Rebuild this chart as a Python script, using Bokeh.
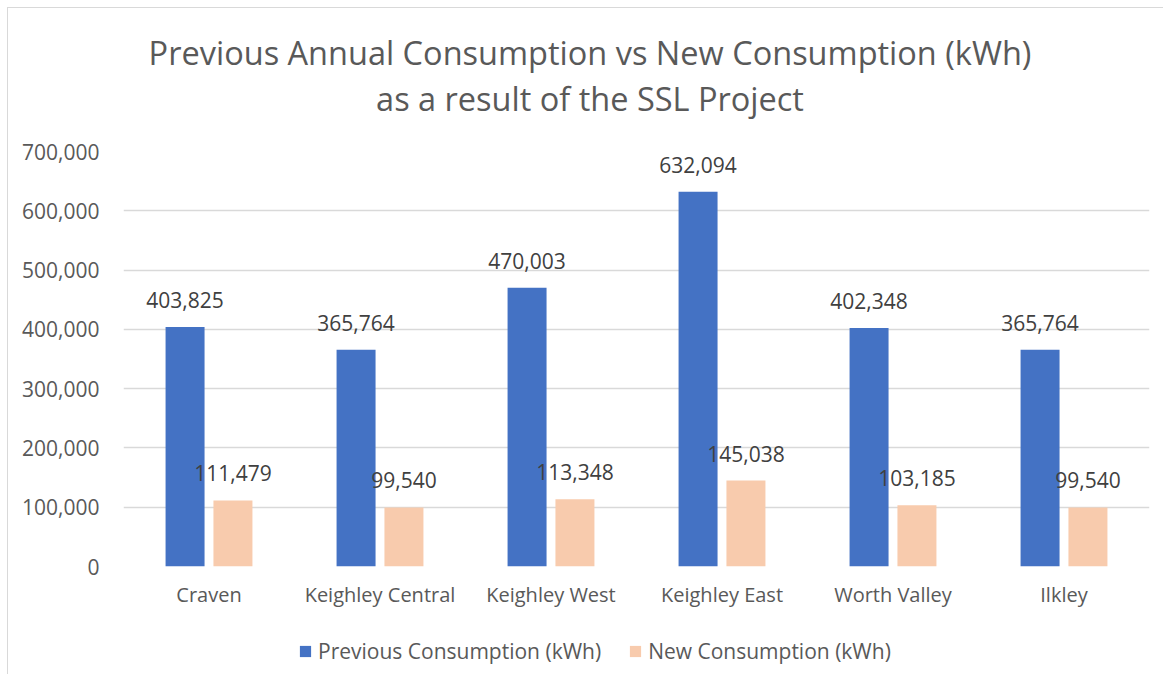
from bokeh.plotting import figure
from bokeh.layouts import column
from bokeh.models import (ColumnDataSource, Legend, LegendItem, NumeralTickFormatter,
                          FixedTicker, Label, Range1d)
from bokeh.transform import dodge
from bokeh.core.properties import value
from bokeh.embed import file_html
from bokeh.resources import INLINE

regions = ["Craven", "Keighley Central", "Keighley West", "Keighley East", "Worth Valley", "Ilkley"]
previous = [403825, 365764, 470003, 632094, 402348, 365764]
new = [111479, 99540, 113348, 145038, 103185, 99540]
y_ticks = [0, 100000, 200000, 300000, 400000, 500000, 600000, 700000]
title_line1 = "Previous Annual Consumption vs New Consumption (kWh)"
title_line2 = "as a result of the SSL Project"
series_names = ["Previous Consumption (kWh)", "New Consumption (kWh)"]

BLUE = "#4472C4"
PEACH = "#F8CBAD"
GREY = "#595959"
FONT = "Open Sans"
W = 1155

src = ColumnDataSource(dict(
    region=regions,
    prev=previous,
    new=new,
    prev_lbl=[f"{v:,}" for v in previous],
    new_lbl=[f"{v:,}" for v in new],
))

# ---- title strip ----
p0 = figure(width=W, height=112, x_range=Range1d(0, 1), y_range=Range1d(0, 112),
            x_axis_type=None, y_axis_type=None, toolbar_location=None,
            output_backend="svg", min_border=0)
p0.outline_line_color = None
for txt, yy in ((title_line1, 68), (title_line2, 22)):
    p0.add_layout(Label(x=0.4547, y=yy, text=txt, text_align="center", text_baseline="middle",
                        text_font=FONT, text_font_size="32.5px", text_color=GREY))

# ---- main chart ----
p = figure(x_range=regions, y_range=(0, 700000), width=W, height=512,
           output_backend="svg", toolbar_location=None,
           min_border_left=115, min_border_right=14, min_border_top=31, min_border_bottom=66)
p.title.visible = False

off = 0.14
w = 0.228
p.vbar(x=dodge("region", -off, range=p.x_range), top="prev", width=w, source=src,
       fill_color=BLUE, line_color=None)
p.vbar(x=dodge("region", off, range=p.x_range), top="new", width=w, source=src,
       fill_color=PEACH, line_color=None)

p.text(x=dodge("region", -off, range=p.x_range), y="prev", text="prev_lbl", source=src,
       text_align="center", text_baseline="middle", y_offset=-27,
       text_font=value(FONT), text_font_size="21px", text_color="#404040")
p.text(x=dodge("region", off, range=p.x_range), y="new", text="new_lbl", source=src,
       text_align="center", text_baseline="middle", y_offset=-27,
       text_font=value(FONT), text_font_size="21px", text_color="#404040")

p.outline_line_color = None
p.xgrid.grid_line_color = None
p.ygrid.grid_line_color = "#d9d9d9"
p.ygrid.grid_line_width = 1.5
p.ygrid.ticker = FixedTicker(ticks=y_ticks)

p.yaxis.ticker = FixedTicker(ticks=y_ticks)
p.yaxis.formatter = NumeralTickFormatter(format="0,0")
for ax in (p.xaxis[0], p.yaxis[0]):
    ax.axis_line_color = None
    ax.major_tick_line_color = None
    ax.minor_tick_line_color = None
    ax.major_tick_out = 0
    ax.major_tick_in = 0
    ax.major_label_text_font = FONT
    ax.major_label_text_color = GREY
p.yaxis.major_label_text_font_size = "21px"
p.xaxis.major_label_text_font_size = "20px"
p.yaxis.major_label_standoff = 24
p.xaxis.major_label_standoff = 14

# ---- legend strip (hidden copies of the series serve as legend keys) ----
p2 = figure(width=W, height=42, x_range=p.x_range, y_range=p.y_range,
            x_axis_type=None, y_axis_type=None, toolbar_location=None,
            output_backend="svg", min_border=0)
p2.outline_line_color = None
p2.xgrid.visible = False
p2.ygrid.visible = False
k1 = p2.vbar(x=dodge("region", -off, range=p.x_range), top="prev", width=w, source=src,
             fill_color=BLUE, line_color=None, visible=False)
k2 = p2.vbar(x=dodge("region", off, range=p.x_range), top="new", width=w, source=src,
             fill_color=PEACH, line_color=None, visible=False)
legend = Legend(items=[LegendItem(label=series_names[0], renderers=[k1]),
                       LegendItem(label=series_names[1], renderers=[k2])],
                orientation="horizontal", location=(175, 9))
legend.label_text_font = FONT
legend.label_text_font_size = "21px"
legend.label_text_color = GREY
legend.glyph_width = 14
legend.glyph_height = 14
legend.label_standoff = 6
legend.spacing = 27
legend.padding = 0
legend.margin = 0
legend.border_line_color = None
legend.background_fill_alpha = 0
legend.inactive_fill_alpha = 0
p2.add_layout(legend, "center")

layout = column(p0, p, p2, spacing=0)
layout.styles = {"border-left": "1px solid #d9d9d9", "border-top": "1px solid #d9d9d9",
                 "margin-left": "7px", "margin-top": "7px"}
open("out.html", "w").write(file_html(layout, INLINE))
